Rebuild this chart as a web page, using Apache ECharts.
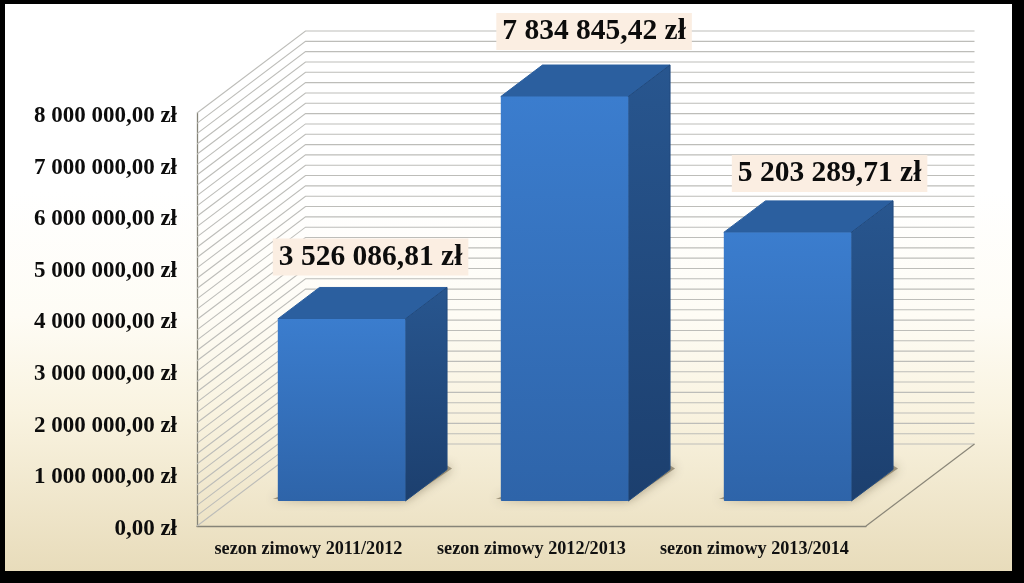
<!DOCTYPE html>
<html><head><meta charset="utf-8">
<style>html,body{margin:0;padding:0;background:#000}#c{width:1024px;height:583px}</style>
<script src="https://cdn.jsdelivr.net/npm/echarts@6/dist/echarts.min.js"></script>
</head><body><div id="c"></div>
<script>
const categories = ['sezon zimowy 2011/2012','sezon zimowy 2012/2013','sezon zimowy 2013/2014'];
const seasonCosts = [3526086.81, 7834845.42, 5203289.71];
const labelShiftX = [29, 29.5, 42];
const labelShiftY = [-62, -65, -59];
const axisMax = 8000000, majorStep = 1000000, minorStep = 200000;
const FONT = '"Liberation Serif","Times New Roman",serif';
const wallDX = 108.5, wallDY = -82;      // depth of the chart box
const barNearK = 25/82, barDepthK = 31.5/82; // bar placement within box depth

function money(v){
  const p = v.toFixed(2).split('.');
  return p[0].replace(/\B(?=(\d{3})+$)/g,' ') + ',' + p[1] + ' zł';
}
const wallValues = [];
for (let v = 0; v <= axisMax; v += minorStep) wallValues.push(v);

function renderWall(params, api){
  const cs = params.coordSys;
  const y = api.coord([0, api.value(0)])[1];
  return {type:'polyline', silent:true,
    shape:{points:[[cs.x,y],[cs.x+wallDX,y+wallDY],[cs.x+cs.width+wallDX,y+wallDY]]},
    style:{stroke:'#bdbdb9',lineWidth:1.1,fill:null}};
}
function renderBar(params, api){
  const i = api.value(0), v = api.value(1);
  const base = api.coord([i,0]), top = api.coord([i,v]);
  const w = api.size([1,0])[0]*0.572;
  const nx = wallDX*barNearK, ny = wallDY*barNearK;
  const dx = wallDX*barDepthK, dy = wallDY*barDepthK;
  const L = base[0]+nx-w/2, R = base[0]+nx+w/2, B = base[1]+ny, T = top[1]+ny;
  const grad = (a,b)=>({type:'linear',x:0,y:0,x2:0,y2:1,colorStops:[{offset:0,color:a},{offset:1,color:b}]});
  return {type:'group',children:[
    {type:'polygon',shape:{points:[[L-5,B-2],[R,B-1],[R+dx+5,B+dy-1],[R+dx,B+dy-4],[L,B-4]]},
      style:{fill:'rgba(100,90,65,0.55)',shadowColor:'rgba(80,70,45,0.95)',shadowBlur:11}},
    {type:'polygon',shape:{points:[[L,T],[L+dx,T+dy],[R+dx,T+dy],[R,T]]},
      style:{fill:'#2b5f9f',stroke:'#2b5f9f',lineWidth:1,lineJoin:'round'}},
    {type:'polygon',shape:{points:[[R,T],[R+dx,T+dy],[R+dx,B+dy],[R,B]]},
      style:{fill:grad('#28568f','#1c3f6e'),stroke:'#214a7e',lineWidth:1,lineJoin:'round'}},
    {type:'rect',shape:{x:L,y:T,width:w,height:B-T,r:1},
      style:{fill:grad('#3b7dce','#2e64a9')}},
    {type:'text',z2:10,style:{text:money(v),x:L+w/2+labelShiftX[i],y:T+labelShiftY[i],
      align:'center',verticalAlign:'middle',font:'bold 29.5px '+FONT,fill:'#0c0c0c',
      backgroundColor:'#fbeee2',padding:[5,6,2,6]}}
  ]};
}
function renderFloor(params){
  const cs = params.coordSys, b = cs.y+cs.height;
  return {type:'polyline',silent:true,
    shape:{points:[[cs.x+cs.width,b],[cs.x+cs.width+wallDX,b+wallDY]]},
    style:{stroke:'#8a8678',lineWidth:1.2,fill:null}};
}

const chart = echarts.init(document.getElementById('c'),null,{renderer:'canvas'});
chart.setOption({
  animation:false,
  backgroundColor:'#000',
  graphic:[{type:'rect',z:-10,silent:true,shape:{x:5,y:4,width:1007,height:567},
    style:{fill:{type:'linear',x:0,y:0,x2:0,y2:1,colorStops:[
      {offset:0,color:'#ffffff'},{offset:0.33,color:'#ffffff'},
      {offset:0.55,color:'#fefcf5'},{offset:0.72,color:'#f9f3e0'},
      {offset:1,color:'#e8dcbb'}]}}}],
  grid:{left:197,top:113,width:669,height:413,containLabel:false},
  xAxis:{type:'category',data:categories,
    axisLine:{lineStyle:{color:'#868478',width:1.3}},axisTick:{show:false},
    axisLabel:{interval:0,hideOverlap:false,color:'#111',fontFamily:FONT,fontWeight:'bold',fontSize:18.2,margin:14}},
  yAxis:{type:'value',min:0,max:axisMax,interval:majorStep,
    axisLine:{show:true,lineStyle:{color:'#868478',width:1.3}},axisTick:{show:false},
    splitLine:{show:false},
    axisLabel:{margin:20,formatter:v=>'{a|'+money(v)+'}',
      rich:{a:{color:'#0c0c0c',fontFamily:FONT,fontWeight:'bold',fontSize:23,padding:[6,0,0,0]}}}},
  series:[
    {type:'custom',name:'wall',data:wallValues.map(v=>[v]),encode:{x:-1,y:0},renderItem:renderWall,z:1,silent:true},
    {type:'custom',name:'floor',data:[[0]],encode:{x:-1,y:0},renderItem:renderFloor,z:1,silent:true},
    {type:'custom',name:'koszt',data:seasonCosts.map((v,i)=>[i,v]),encode:{x:0,y:1},renderItem:renderBar,z:3}
  ]
});
</script></body></html>
